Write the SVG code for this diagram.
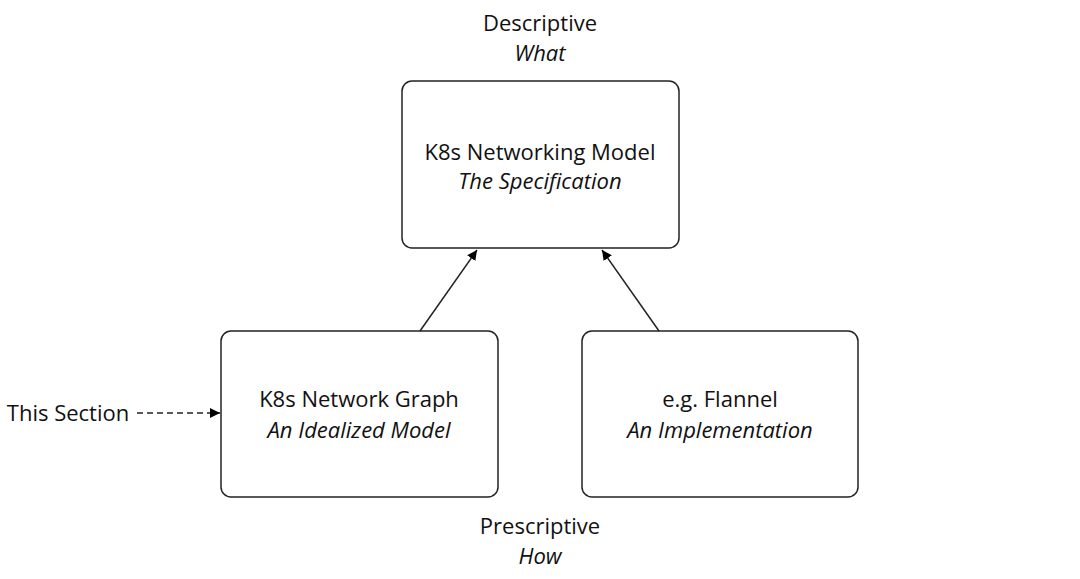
<svg xmlns="http://www.w3.org/2000/svg" width="1080" height="579" viewBox="0 0 1080 579">
<defs>
<marker id="ah" viewBox="0 0 10 10" refX="10" refY="5" markerWidth="10" markerHeight="10" markerUnits="userSpaceOnUse" orient="auto">
<path d="M0,0 L10,5 L0,10 Z" fill="#000"/>
</marker>
</defs>
<style>
text{font-family:"Open Sans","Noto Sans","Liberation Sans",sans-serif;font-size:22px;fill:#111;text-anchor:middle}
.i{font-style:italic}
.box{fill:#fff;stroke:#222;stroke-width:1.5}
.c{stroke:#222;stroke-width:1.5;fill:none}
</style>
<rect width="1080" height="579" fill="#fff"/>
<g id="label-top">
<text x="540" y="31">Descriptive</text>
<text x="540" y="61" class="i">What</text>
</g>
<g id="node-model">
<rect class="box" x="402" y="81" width="277" height="167" rx="10"/>
<text x="540" y="160">K8s Networking Model</text>
<text x="540" y="189" class="i">The Specification</text>
</g>
<g id="node-graph">
<rect class="box" x="221" y="331" width="277" height="166" rx="10"/>
<text x="359" y="407">K8s Network Graph</text>
<text x="359" y="438" class="i">An Idealized Model</text>
</g>
<g id="node-flannel">
<rect class="box" x="582" y="331" width="276" height="166" rx="10"/>
<text x="720" y="407">e.g. Flannel</text>
<text x="720" y="438" class="i">An Implementation</text>
</g>
<g id="label-section">
<text x="68" y="421">This Section</text>
</g>
<g id="label-bottom">
<text x="540" y="534">Prescriptive</text>
<text x="540" y="564" class="i">How</text>
</g>
<g id="connectors">
<line class="c" x1="420" y1="331" x2="477" y2="250" marker-end="url(#ah)"/>
<line class="c" x1="659" y1="331" x2="602" y2="250" marker-end="url(#ah)"/>
<line class="c" x1="137" y1="413" x2="220" y2="413" stroke-dasharray="6,4" marker-end="url(#ah)"/>
</g>
</svg>
